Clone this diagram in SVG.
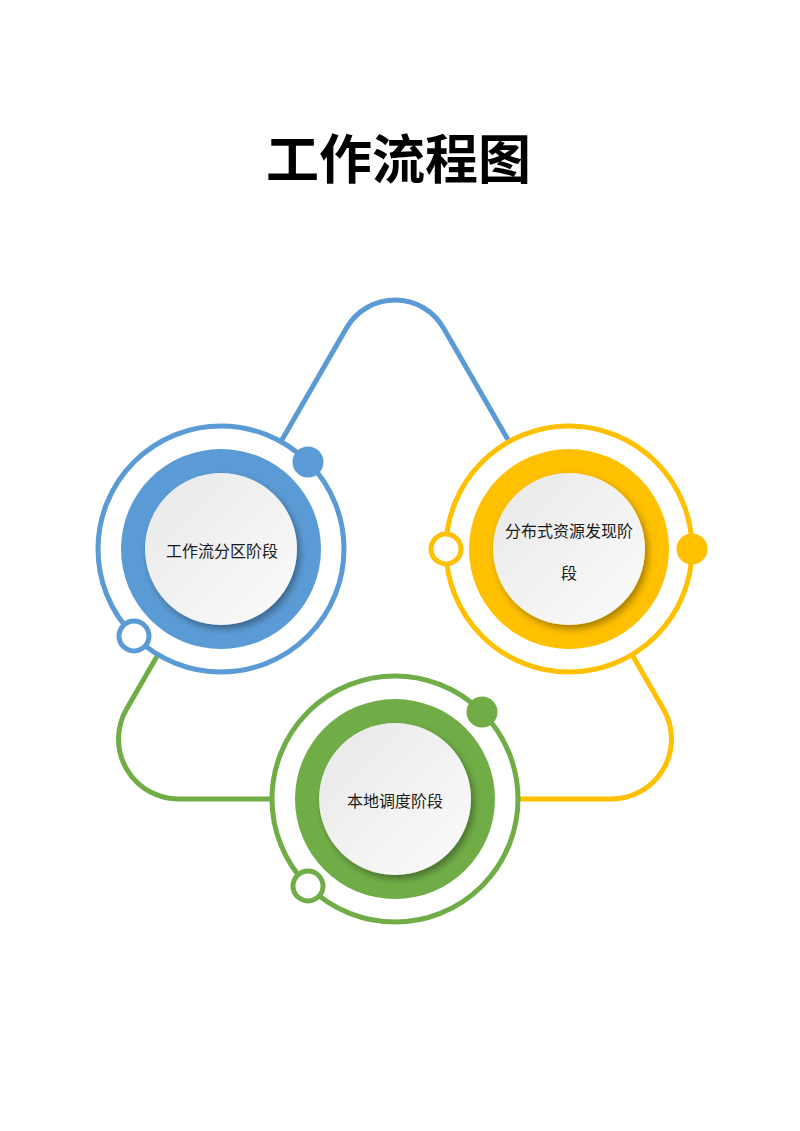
<svg xmlns="http://www.w3.org/2000/svg" width="800" height="1131" viewBox="0 0 800 1131">
  <defs>
    <linearGradient id="disc" x1="0" y1="0" x2="1" y2="1">
      <stop offset="0" stop-color="#e8e8e8"/>
      <stop offset="1" stop-color="#fbfbfb"/>
    </linearGradient>
    <filter id="shadow" x="-30%" y="-30%" width="160%" height="160%">
      <feDropShadow dx="3" dy="4" stdDeviation="3.5" flood-color="#000" flood-opacity="0.35"/>
    </filter>
  </defs>
  <style>
    .title { font-family: "Noto Sans CJK SC", "Noto Sans", sans-serif; font-weight: 700; font-size: 53px; fill: #000; }
    .label { font-family: "Noto Sans CJK SC", "Noto Sans", sans-serif; font-size: 16px; fill: #1a1a1a; }
    .conn { fill: none; stroke-width: 5; stroke-linecap: round; }
    .outer { fill: #fff; stroke-width: 5; }
    .hollow { fill: #fff; stroke-width: 5; }
    .disc { fill: url(#disc); filter: url(#shadow); }
    .blue { stroke: #5b9bd5; }
    .yellow { stroke: #ffc000; }
    .green { stroke: #70ad47; }
  </style>
  <rect width="800" height="1131" fill="#fff"/>
  <text class="title" x="398.5" y="156" text-anchor="middle" dominant-baseline="central">工作流程图</text>

  <g id="connectors">
    <path class="conn blue" d="M 218.9 549 L 346.5 328 A 56 56 0 0 1 443.5 328 L 571.1 549"/>
    <path class="conn yellow" d="M 571.1 549 L 663.4 709 A 60 60 0 0 1 611.5 799 L 395 799"/>
    <path class="conn green" d="M 395 799 L 178.5 799 A 60 60 0 0 1 126.6 709 L 218.9 549"/>
  </g>

  <g id="node-partition">
    <circle class="outer blue" cx="221" cy="549" r="123"/>
    <circle cx="221" cy="549" r="100" fill="#5b9bd5"/>
    <circle class="disc" cx="221" cy="549" r="76"/>
    <circle cx="308" cy="462" r="15.5" fill="#5b9bd5"/>
    <circle class="hollow blue" cx="134" cy="636" r="15"/>
    <text class="label" x="222" y="550" text-anchor="middle" dominant-baseline="central">工作流分区阶段</text>
  </g>

  <g id="node-discovery">
    <circle class="outer yellow" cx="569" cy="549" r="123"/>
    <circle cx="569" cy="549" r="100" fill="#ffc000"/>
    <circle class="disc" cx="569" cy="549" r="76"/>
    <circle cx="692" cy="549" r="15.5" fill="#ffc000"/>
    <circle class="hollow yellow" cx="446" cy="549" r="15"/>
    <text class="label" x="569" y="530" text-anchor="middle" dominant-baseline="central">分布式资源发现阶</text>
    <text class="label" x="569" y="572" text-anchor="middle" dominant-baseline="central">段</text>
  </g>

  <g id="node-local">
    <circle class="outer green" cx="395" cy="799" r="123"/>
    <circle cx="395" cy="799" r="100" fill="#70ad47"/>
    <circle class="disc" cx="395" cy="799" r="76"/>
    <circle cx="482" cy="712" r="15.5" fill="#70ad47"/>
    <circle class="hollow green" cx="308" cy="886" r="15"/>
    <text class="label" x="395" y="800" text-anchor="middle" dominant-baseline="central">本地调度阶段</text>
  </g>
</svg>
